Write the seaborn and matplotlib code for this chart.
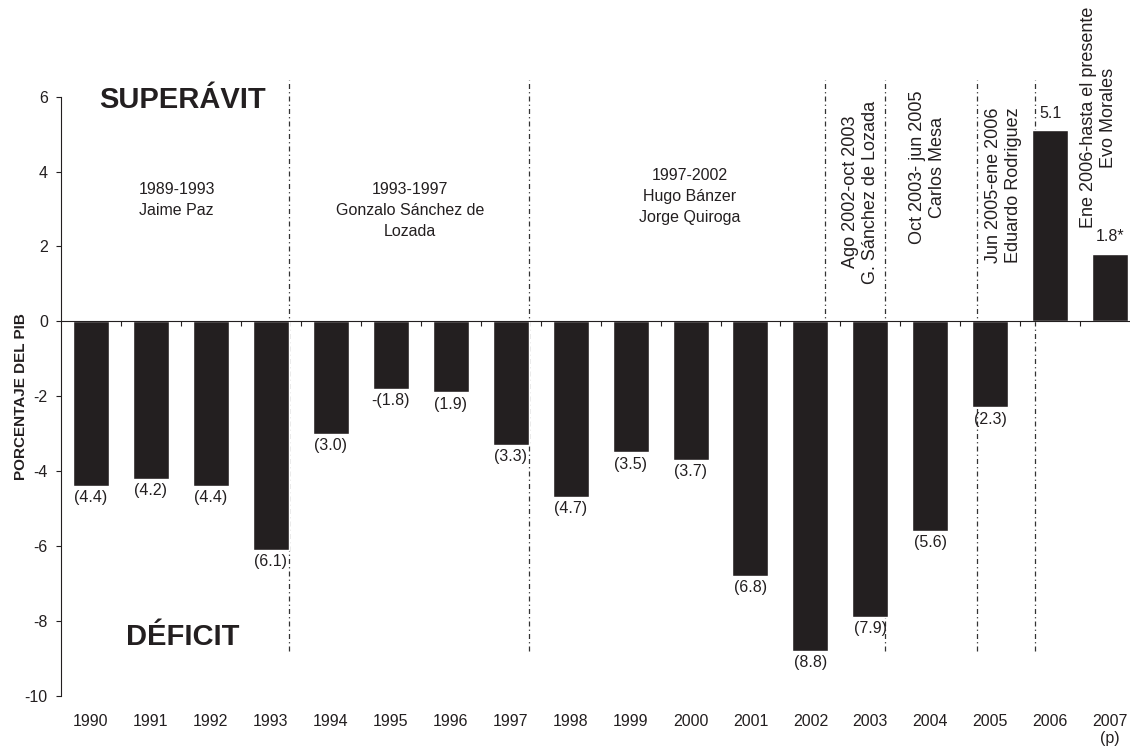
import matplotlib
matplotlib.use("Agg")
import matplotlib.pyplot as plt
import seaborn as sns
import pandas as pd

# data
years = ["1990", "1991", "1992", "1993", "1994", "1995", "1996", "1997", "1998",
         "1999", "2000", "2001", "2002", "2003", "2004", "2005", "2006", "2007"]
tick_labels = years[:-1] + ["2007\n(p)"]
balance = [-4.4, -4.2, -4.4, -6.1, -3.0, -1.8, -1.9, -3.3, -4.7,
           -3.5, -3.7, -6.8, -8.8, -7.9, -5.6, -2.3, 5.1, 1.8]
value_labels = ["(4.4)", "(4.2)", "(4.4)", "(6.1)", "(3.0)", "-(1.8)", "(1.9)", "(3.3)", "(4.7)",
                "(3.5)", "(3.7)", "(6.8)", "(8.8)", "(7.9)", "(5.6)", "(2.3)", "5.1", "1.8*"]

# government periods: boundaries (in bar index units) and text
period_breaks = [3.3, 7.3, 12.25, 13.25, 14.78, 15.75]
periods_flat = [
    ("1989-1993\nJaime Paz", 1.43, 3.23),
    ("1993-1997\nGonzalo Sánchez de\nLozada", 5.32, 2.96),
    ("1997-2002\nHugo Bánzer\nJorge Quiroga", 9.98, 3.33),
]
periods_rot = [
    ("Ago 2002-oct 2003\nG. Sánchez de Lozada", 12.83, 3.45),
    ("Oct 2003- jun 2005\nCarlos Mesa", 13.95, 4.12),
    ("Jun 2005-ene 2006\nEduardo Rodriguez", 15.22, 3.64),
    ("Ene 2006-hasta el presente\nEvo Morales", 16.80, 5.44),
]

ink = "#231f20"

sns.set_style("white")
plt.rcParams["font.family"] = ["Liberation Sans", "DejaVu Sans"]
plt.rcParams["text.color"] = ink
plt.rcParams["axes.unicode_minus"] = False

df = pd.DataFrame({"year": years, "balance": balance})

fig = plt.figure(figsize=(11.3, 7.5), dpi=100)
ax = fig.add_axes([61 / 1130, 54.3 / 750, 1069 / 1130, 599 / 750])

# dash-dot period separators, behind the bars
ax.vlines(period_breaks, -8.8, 6.45, colors="#333333", linewidth=0.9,
          linestyles=(0, (4, 2.5, 1, 2.5)), zorder=1, clip_on=False)

sns.barplot(data=df, x="year", y="balance", order=years, color=ink,
            width=0.6, saturation=1, ax=ax, zorder=2)

bars = ax.containers[0]
neg_labels = [l if v < 0 else "" for l, v in zip(value_labels, balance)]
pos_labels = [l if v >= 0 else "" for l, v in zip(value_labels, balance)]
ax.bar_label(bars, labels=neg_labels, padding=3, fontsize=11.5, color=ink)
ax.bar_label(bars, labels=pos_labels, padding=7, fontsize=11.5, color=ink)

ax.set_xlim(-0.5, 17.33)
ax.set_ylim(-10, 6)
ax.set_yticks(range(-10, 7, 2))

# zero line carries the small ticks between bars
ax.spines["bottom"].set_position(("data", 0))
ax.spines["bottom"].set_color(ink)
ax.spines["bottom"].set_linewidth(0.8)
ax.set_xticks(range(len(years)))
ax.set_xticks([i + 0.5 for i in range(len(years) - 1)], minor=True)
ax.tick_params(axis="x", which="major", length=0, labelbottom=False)
ax.tick_params(axis="x", which="minor", bottom=True, direction="out",
               length=3.5, width=0.8, color=ink)
ax.tick_params(axis="y", left=True, length=3.5, width=0.8, pad=6,
               labelsize=11.5, labelcolor=ink, color=ink)

for side in ["top", "right"]:
    ax.spines[side].set_visible(False)
ax.spines["left"].set_color(ink)
ax.spines["left"].set_linewidth(0.8)

# year labels along the bottom of the plot
years_ax = ax.secondary_xaxis("bottom")
years_ax.set_xticks(range(len(years)), labels=tick_labels)
years_ax.tick_params(length=0, pad=13, labelsize=11.5, labelcolor=ink)
years_ax.spines["bottom"].set_visible(False)

ax.set_xlabel("")
ax.set_ylabel("PORCENTAJE DEL PIB", fontsize=11, fontweight="bold", color=ink)
ax.yaxis.set_label_coords(-0.031, 0.5)

for txt, x, y in periods_flat:
    ax.text(x, y, txt, ha="center", va="center", fontsize=11.5,
            linespacing=1.5, color=ink)
for txt, x, y in periods_rot:
    ax.text(x, y, txt, ha="center", va="center", fontsize=13, rotation=90,
            linespacing=1.2, color=ink, rotation_mode="anchor", clip_on=False)

ax.text(1.52, 5.9, "SUPERÁVIT", ha="center", va="center", fontsize=21,
        fontweight="bold", color=ink)
ax.text(1.53, -8.42, "DÉFICIT", ha="center", va="center", fontsize=21,
        fontweight="bold", color=ink)

fig.savefig("out.png", dpi=100)
